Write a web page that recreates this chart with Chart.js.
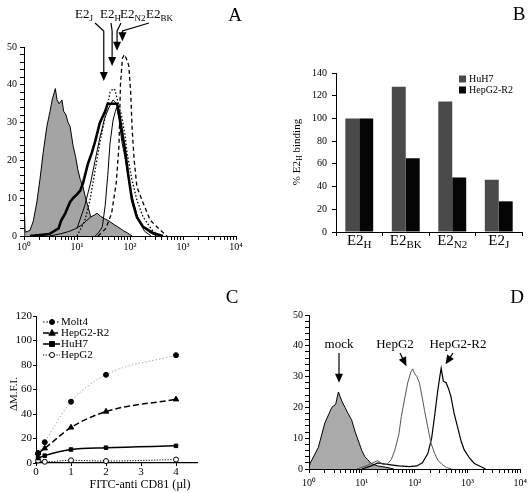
<!DOCTYPE html>
<html>
<head>
<meta charset="utf-8">
<script src="https://cdn.jsdelivr.net/npm/chart.js@4.4.1/dist/chart.umd.min.js"></script>
<style>
  html, body { margin: 0; padding: 0; background: #fff; }
  body { width: 531px; height: 493px; position: relative; overflow: hidden; }
  canvas { position: absolute; }
</style>
</head>
<body>
<canvas id="chartA" width="265" height="250" style="left:0;top:0"></canvas>
<canvas id="chartB" width="266" height="250" style="left:265px;top:0"></canvas>
<canvas id="chartC" width="265" height="243" style="left:0;top:250px"></canvas>
<canvas id="chartD" width="266" height="243" style="left:265px;top:250px"></canvas>
<script>
// ---- panel A: histograms (fluorescence, counts) ----
const aGrayX = [1, 1, 1.05, 1.3, 1.5, 1.75, 2, 2.3, 2.7, 3.1, 3.4, 3.9, 4.2, 4.6, 5.2, 5.6, 6.2, 6.8, 7.4, 8.4, 9.4, 10.4, 11.5, 13, 14.5, 16, 19, 23, 27, 35, 45, 60];
const aGrayY = [0, 10, 1, 1.5, 4, 9, 15, 22, 29, 33, 36, 39, 36, 35, 36, 33, 32, 30, 29, 24, 21, 17.5, 15, 13, 10, 8, 4, 2.5, 1.6, 1, 0.5, 0];
const aHumpX = [3, 5, 7, 9, 12, 15, 18, 21, 24, 28, 33, 40, 50, 62, 75, 90, 110];
const aHumpY = [0, 0.6, 1.2, 1.8, 2.8, 4, 5, 5.5, 6, 5.2, 4.6, 4, 3, 2.2, 1.4, 0.8, 0];
const aThickX = [1.3, 3, 4.5, 5, 6, 7.4, 8.4, 10, 11.5, 13, 16, 19, 22, 27, 34, 38, 45, 52, 57, 63, 70, 80, 92, 109, 135, 177, 270, 420];
const aThickY = [0, 0.5, 2, 4, 6, 9, 10, 11, 12, 14, 19, 22, 25, 30, 33, 35, 35, 35, 35, 32, 28, 23, 16.5, 9.5, 5, 2.4, 0.8, 0];
const aThinX = [10, 14, 18, 22, 27, 33, 40, 48, 56, 65, 75, 88, 105, 130, 170, 230, 320];
const aThinY = [2, 8, 14, 20, 26, 31, 34, 36, 35, 31, 25, 18, 11, 6, 2.5, 1, 0];
const aInnerX = [22, 26, 30, 34, 38, 42, 48, 53, 56, 62, 70, 80, 88, 100, 114, 135, 154, 190, 250];
const aInnerY = [0, 1, 2.4, 8, 16, 24.6, 30.7, 33, 34, 31, 25, 21, 17.5, 13, 9.5, 5.5, 3.4, 1.2, 0];
const aDotX = [10, 14, 17.6, 22, 27, 34, 42, 48, 52, 58, 70, 80, 88, 109, 135, 177, 260, 350];
const aDotY = [0, 4, 9.5, 17.5, 24.6, 31.5, 38, 39, 38.6, 36, 31.5, 27, 22, 14.8, 9.5, 5, 1.6, 0];
const aDashX = [25, 35, 45, 55, 62, 66, 72, 78, 85, 95, 103, 110, 120, 135, 168, 240, 370, 500];
const aDashY = [0, 2, 6, 14, 24, 40, 47, 48, 47, 45, 38, 28, 20, 13, 9.5, 4.2, 1.6, 0];
// arrows in A: label, subscript, peak position, tip height
const aArrowBase = ['E2', 'E2', 'E2', 'E2'];
const aArrowSub = ['J', 'H', 'N2', 'BK'];
const aArrowAt = [32, 46, 57, 72];
const aArrowTip = [41, 45, 49, 51.5];

// ---- panel B: bars ----
const bBase = ['E2', 'E2', 'E2', 'E2'];
const bSub = ['H', 'BK', 'N2', 'J'];
const bHuH7 = [100, 128, 115, 46];
const bHepR2 = [100, 65, 48, 27];

// ---- panel C: dose response ----
const cDose = [0.06, 0.25, 1, 2, 4];
const cMolt4 = [8, 17, 50, 72, 88];
const cHepR2 = [8, 12, 29, 42, 52];
const cHuH7 = [4, 6, 11, 12.5, 14];
const cHepG2 = [2, 1, 2.2, 1.6, 2.8];

// ---- panel D: histograms ----
const dMockX = [1, 1.05, 1.5, 2, 2.4, 2.7, 3.2, 3.6, 4.2, 4.8, 5.5, 6.4, 7.5, 8.5, 10, 11.4, 13, 15, 20, 30, 40];
const dMockY = [0, 1.8, 7, 15, 18, 20, 21, 25, 22, 20, 18, 16, 12, 9.4, 6, 4, 3, 1.8, 1, 0.5, 0];
const dHepG2X = [8, 12, 16, 20, 25, 30, 36, 42, 50, 56, 65, 74, 85, 92, 100, 110, 123, 140, 154, 180, 205, 240, 275, 330, 400, 500];
const dHepG2Y = [0, 1, 2, 2.7, 1.5, 1.5, 3, 6, 11, 17, 23, 28, 31.5, 32.5, 31, 30, 28, 23, 19, 13, 8.3, 5, 2.9, 1.5, 0.5, 0];
const dHepR2X = [10, 15, 20, 30, 50, 80, 110, 140, 178, 210, 238, 275, 300, 318, 350, 395, 440, 487, 560, 650, 760, 870, 1100, 1350, 1700, 2200];
const dHepR2Y = [0, 1, 2, 1.5, 1, 0.8, 1, 2, 5, 10, 17, 25.6, 30, 32.7, 28.5, 28, 26, 23.5, 18, 13.7, 9, 6.2, 3.5, 1.8, 1, 0];
const dNotes = ['mock', 'HepG2', 'HepG2-R2'];
const dNoteAt = [3.7, 70, 385];
const dNoteTip = [28, 33.4, 34];

const SERIF = "'Liberation Serif', 'Times New Roman', serif";
const SUP = ['\u2070', '\u00B9', '\u00B2', '\u00B3', '\u2074'];

function pts(xs, ys) {
    return xs.map((x, i) => ({ x: x, y: ys[i] }));
}

function drawSub(ctx, x, y, base, sub, size, align) {
    const subSize = Math.round(size * 0.7);
    ctx.font = size + 'px ' + SERIF;
    const w1 = ctx.measureText(base).width;
    ctx.font = subSize + 'px ' + SERIF;
    const w2 = ctx.measureText(sub).width;
    let left = x;
    if (align === 'center') left = x - (w1 + w2) / 2;
    ctx.textAlign = 'left';
    ctx.textBaseline = 'alphabetic';
    ctx.font = size + 'px ' + SERIF;
    ctx.fillText(base, left, y);
    ctx.font = subSize + 'px ' + SERIF;
    ctx.fillText(sub, left + w1, y + size * 0.22);
    return w1 + w2;
}

function arrowHead(ctx, x, y, w, h, angle) {
    ctx.save();
    ctx.translate(x, y);
    ctx.rotate(angle);
    ctx.beginPath();
    ctx.moveTo(0, 0);
    ctx.lineTo(-w / 2, -h);
    ctx.lineTo(w / 2, -h);
    ctx.closePath();
    ctx.fill();
    ctx.restore();
}

function panelLetter(ctx, txt, x, y) {
    ctx.fillStyle = '#000';
    ctx.font = '19px ' + SERIF;
    ctx.textAlign = 'center';
    ctx.textBaseline = 'alphabetic';
    ctx.fillText(txt, x, y);
}

function logAxis(h, pad) {
    return {
        type: 'logarithmic',
        min: 1,
        max: 10000,
        afterBuildTicks: s => {
            const t = [];
            for (let e = 0; e < 4; e++) {
                for (let k = 1; k < 10; k++) t.push({ value: k * Math.pow(10, e) });
            }
            t.push({ value: 10000 });
            s.ticks = t;
        },
        afterFit: s => { s.height = h; },
        border: { color: '#000', width: 1 },
        grid: { drawOnChartArea: false, tickLength: 4, color: '#000' },
        ticks: {
            autoSkip: false,
            maxRotation: 0,
            color: '#000',
            padding: pad,
            font: { family: SERIF, size: 10 },
            callback: v => {
                const e = Math.log10(v);
                return Math.abs(e - Math.round(e)) < 1e-9 ? '10' + SUP[Math.round(e)] : '';
            }
        }
    };
}

function countAxis(w, pad) {
    return {
        min: 0,
        max: 50,
        afterFit: s => { s.width = w; },
        border: { color: '#000', width: 1 },
        grid: { drawOnChartArea: false, tickLength: 4, color: '#000' },
        ticks: {
            stepSize: 2,
            autoSkip: false,
            color: '#000',
            padding: pad,
            font: { family: SERIF, size: 10 },
            callback: v => (v % 10 === 0 ? v : '')
        }
    };
}

const common = {
    responsive: false,
    animation: false,
    devicePixelRatio: 1,
    events: [],
    plugins: { legend: { display: false }, tooltip: { enabled: false } }
};

function histLine(xs, ys, extra) {
    return Object.assign({
        data: pts(xs, ys),
        borderColor: '#000',
        borderWidth: 1,
        pointRadius: 0,
        fill: false,
        tension: 0,
        order: 1
    }, extra);
}

// ---------------- A ----------------
const notesA = {
    id: 'notesA',
    afterDraw(chart) {
        const c = chart.ctx;
        const xs = chart.scales.x, ys = chart.scales.y;
        const labelLeft = [75, 100, 120, 146];
        const labelAnchor = [95, 111, 121, 149];
        c.save();
        c.fillStyle = '#000';
        c.strokeStyle = '#000';
        c.lineWidth = 1.2;
        for (let i = 0; i < aArrowSub.length; i++) {
            drawSub(c, labelLeft[i], 18, aArrowBase[i], aArrowSub[i], 13, 'left');
            const tx = xs.getPixelForValue(aArrowAt[i]);
            const ty = ys.getPixelForValue(aArrowTip[i]);
            c.beginPath();
            c.moveTo(labelAnchor[i], 23);
            c.lineTo(tx, 31);
            c.lineTo(tx, ty - 8);
            c.stroke();
            arrowHead(c, tx, ty, 8, 9, 0);
        }
        panelLetter(c, 'A', 235, 21);
        c.restore();
    }
};

new Chart(document.getElementById('chartA'), {
    type: 'line',
    data: {
        datasets: [
            histLine(aGrayX, aGrayY, { fill: 'origin', backgroundColor: '#a4a4a4', order: 5 }),
            histLine(aHumpX, aHumpY, { fill: 'origin', backgroundColor: '#a4a4a4', order: 4 }),
            histLine(aThickX, aThickY, { borderWidth: 2.6 }),
            histLine(aThinX, aThinY, { borderWidth: 1 }),
            histLine(aInnerX, aInnerY, { borderWidth: 1 }),
            histLine(aDotX, aDotY, { borderWidth: 1.3, borderDash: [1.5, 2] }),
            histLine(aDashX, aDashY, { borderWidth: 1.3, borderDash: [4, 3] })
        ]
    },
    options: Object.assign({}, common, {
        layout: { padding: { left: 0, right: 29, top: 47, bottom: 0 } },
        scales: { x: logAxis(14, 1), y: countAxis(24, 3) }
    }),
    plugins: [notesA]
});

// ---------------- B ----------------
const notesB = {
    id: 'notesB',
    afterDraw(chart) {
        const c = chart.ctx;
        const xs = chart.scales.x;
        c.save();
        c.fillStyle = '#000';
        for (let i = 0; i < bSub.length; i++) {
            drawSub(c, xs.getPixelForValue(i), 245, bBase[i], bSub[i], 15, 'center');
        }
        // y title
        c.save();
        c.translate(32, 152);
        c.rotate(-Math.PI / 2);
        c.fillStyle = '#000';
        c.font = '11px ' + SERIF;
        const w0 = c.measureText('% E2').width;
        c.font = '8px ' + SERIF;
        const w1 = c.measureText('H').width;
        c.font = '11px ' + SERIF;
        const w2 = c.measureText(' binding').width;
        const x = -(w0 + w1 + w2) / 2;
        c.textAlign = 'left';
        c.textBaseline = 'middle';
        c.fillText('% E2', x, 0);
        c.font = '8px ' + SERIF;
        c.fillText('H', x + w0, 3);
        c.font = '11px ' + SERIF;
        c.fillText(' binding', x + w0 + w1, 0);
        c.restore();
        // legend
        c.font = '10px ' + SERIF;
        c.textAlign = 'left';
        c.textBaseline = 'middle';
        chart.data.datasets.forEach((d, i) => {
            const y = 79 + i * 11;
            c.fillStyle = d.backgroundColor;
            c.fillRect(194, y - 3.5, 7, 7);
            c.fillStyle = '#000';
            c.fillText(d.label, 204, y);
        });
        panelLetter(c, 'B', 254, 20);
        c.restore();
    }
};

new Chart(document.getElementById('chartB'), {
    type: 'bar',
    data: {
        labels: bSub,
        datasets: [
            { label: 'HuH7', data: bHuH7, backgroundColor: '#4a4a4a', categoryPercentage: 0.6, barPercentage: 1 },
            { label: 'HepG2-R2', data: bHepR2, backgroundColor: '#050505', categoryPercentage: 0.6, barPercentage: 1 }
        ]
    },
    options: Object.assign({}, common, {
        layout: { padding: { left: 0, right: 9, top: 73, bottom: 0 } },
        scales: {
            x: {
                afterFit: s => { s.height = 18; },
                border: { color: '#000', width: 1 },
                grid: { drawOnChartArea: false, tickLength: 4, color: '#000', offset: true },
                ticks: { callback: () => '' }
            },
            y: {
                min: 0,
                max: 140,
                afterFit: s => { s.width = 71; },
                border: { color: '#000', width: 1 },
                grid: { drawOnChartArea: false, tickLength: 4, color: '#000' },
                ticks: { stepSize: 20, color: '#000', padding: 5, font: { family: SERIF, size: 10 } }
            }
        }
    }),
    plugins: [notesB]
});

// ---------------- C ----------------
function markerAt(c, style, x, y, fill) {
    c.save();
    c.fillStyle = fill;
    c.strokeStyle = '#000';
    c.lineWidth = 1;
    c.setLineDash([]);
    c.beginPath();
    if (style === 'triangle') {
        c.moveTo(x, y - 3.5);
        c.lineTo(x + 3.2, y + 2.2);
        c.lineTo(x - 3.2, y + 2.2);
        c.closePath();
    } else if (style === 'rect') {
        c.rect(x - 2.5, y - 2.5, 5, 5);
    } else {
        c.arc(x, y, 2.5, 0, Math.PI * 2);
    }
    c.fill();
    c.stroke();
    c.restore();
}

const notesC = {
    id: 'notesC',
    afterDraw(chart) {
        const c = chart.ctx;
        c.save();
        const rows = [72, 83, 94, 105];
        chart.data.datasets.forEach((d, i) => {
            const y = rows[i];
            c.strokeStyle = d.legendColor;
            c.lineWidth = d.borderWidth;
            c.setLineDash(d.borderDash || []);
            c.beginPath();
            c.moveTo(43, y);
            c.lineTo(60, y);
            c.stroke();
            markerAt(c, d.pointStyle, 52, y, d.pointBackgroundColor);
            c.fillStyle = '#000';
            c.font = '11px ' + SERIF;
            c.textAlign = 'left';
            c.textBaseline = 'middle';
            c.fillText(d.label, 61, y);
        });
        c.setLineDash([]);
        c.fillStyle = '#000';
        c.font = '12px ' + SERIF;
        c.textAlign = 'center';
        c.textBaseline = 'alphabetic';
        c.fillText('FITC-anti CD81 (\u00B5l)', 140, 238);
        c.save();
        c.translate(14, 144);
        c.rotate(-Math.PI / 2);
        c.font = '11px ' + SERIF;
        c.textBaseline = 'middle';
        c.fillText('\u0394M.F.I.', 0, 0);
        c.restore();
        panelLetter(c, 'C', 232, 53);
        c.restore();
    }
};

function doseLine(label, ys, extra) {
    return Object.assign({
        label: label,
        data: pts(cDose, ys),
        borderColor: '#000',
        legendColor: '#000',
        borderWidth: 1.5,
        pointRadius: 2.5,
        pointBorderColor: '#000',
        pointBackgroundColor: '#000',
        pointBorderWidth: 1,
        cubicInterpolationMode: 'monotone',
        clip: false,
        fill: false
    }, extra);
}

new Chart(document.getElementById('chartC'), {
    type: 'line',
    data: {
        datasets: [
            doseLine('Molt4', cMolt4, { borderColor: '#a8a8a8', legendColor: '#000', borderWidth: 1, borderDash: [1.5, 2], pointStyle: 'circle' }),
            doseLine('HepG2-R2', cHepR2, { borderDash: [6, 3], pointStyle: 'triangle', pointRadius: 3.2 }),
            doseLine('HuH7', cHuH7, { pointStyle: 'rect' }),
            doseLine('HepG2', cHepG2, { borderWidth: 1, borderDash: [1.2, 1.5], pointStyle: 'circle', pointBackgroundColor: '#fff' })
        ]
    },
    options: Object.assign({}, common, {
        layout: { padding: { left: 0, right: 68, top: 66, bottom: 0 } },
        scales: {
            x: {
                type: 'linear',
                min: 0,
                max: 4.6,
                afterFit: s => { s.height = 30; },
                border: { color: '#000', width: 1.2 },
                grid: { drawOnChartArea: false, tickLength: 3, color: '#000' },
                ticks: { stepSize: 1, includeBounds: false, color: '#000', padding: 0, font: { family: SERIF, size: 11 } }
            },
            y: {
                min: 0,
                max: 120,
                afterFit: s => { s.width = 36; },
                border: { color: '#000', width: 1 },
                grid: { drawOnChartArea: false, tickLength: 3, color: '#000' },
                ticks: { stepSize: 20, color: '#000', padding: 1, font: { family: SERIF, size: 11 } }
            }
        }
    }),
    plugins: [notesC]
});

// ---------------- D ----------------
const notesD = {
    id: 'notesD',
    afterDraw(chart) {
        const c = chart.ctx;
        const xs = chart.scales.x, ys = chart.scales.y;
        const textX = [74, 130, 193];
        const tailX = [74, 135, 188];
        c.save();
        c.fillStyle = '#000';
        c.strokeStyle = '#000';
        c.lineWidth = 1.2;
        c.font = '13px ' + SERIF;
        c.textAlign = 'center';
        c.textBaseline = 'alphabetic';
        for (let i = 0; i < dNotes.length; i++) {
            c.fillText(dNotes[i], textX[i], 98);
            const tx = xs.getPixelForValue(dNoteAt[i]);
            const ty = ys.getPixelForValue(dNoteTip[i]);
            const ang = Math.atan2(ty - 103, tx - tailX[i]) - Math.PI / 2;
            const len = Math.hypot(tx - tailX[i], ty - 103);
            const bx = tx - (tx - tailX[i]) / len * 8;
            const by = ty - (ty - 103) / len * 8;
            c.beginPath();
            c.moveTo(tailX[i], 103);
            c.lineTo(bx, by);
            c.stroke();
            arrowHead(c, tx, ty, 8, 9, ang);
        }
        panelLetter(c, 'D', 252, 53);
        c.restore();
    }
};

new Chart(document.getElementById('chartD'), {
    type: 'line',
    data: {
        datasets: [
            histLine(dMockX, dMockY, { fill: 'origin', backgroundColor: '#aaaaaa', order: 5 }),
            histLine(dHepG2X, dHepG2Y, { borderColor: '#555', borderWidth: 1 }),
            histLine(dHepR2X, dHepR2Y, { borderWidth: 1.2 })
        ]
    },
    options: Object.assign({}, common, {
        layout: { padding: { left: 0, right: 10, top: 65, bottom: 0 } },
        scales: { x: logAxis(24, 4), y: countAxis(44, 2) }
    }),
    plugins: [notesD]
});
</script>
</body>
</html>
